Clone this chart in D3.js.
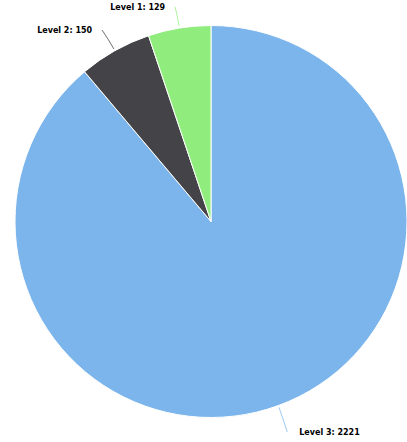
<!DOCTYPE html>
<html><head><meta charset="utf-8">
<script src="https://cdn.jsdelivr.net/npm/d3@7"></script>
<style>html,body{margin:0;padding:0;background:#fff;}svg{display:block;}</style>
</head><body>
<svg id="chart" width="407" height="442"></svg>
<script>
const categories = ["Level 3", "Level 2", "Level 1"];
const values = [2221, 150, 129];
const colors = ["#7cb5ec", "#434348", "#90ed7d"];

const W = 407, H = 442, cx = 211, cy = 221.5, R = 196, RL = 222;
const svg = d3.select("#chart");
const data = categories.map((c, i) => ({ name: c, value: values[i], color: colors[i] }));
const pie = d3.pie().value(d => d.value).sort(null).startAngle(0).endAngle(2 * Math.PI);
const arcs = pie(data);
const arc = d3.arc().innerRadius(0).outerRadius(R);
const g = svg.append("g").attr("transform", `translate(${cx},${cy})`);
g.selectAll("path.slice").data(arcs).join("path")
  .attr("class", "slice")
  .attr("d", arc)
  .attr("fill", d => d.data.color)
  .attr("stroke", "#fff").attr("stroke-width", 1).attr("stroke-linejoin", "round");

arcs.forEach(a => {
  const m = (a.startAngle + a.endAngle) / 2;
  const sx = Math.sin(m), sy = -Math.cos(m);
  const x0 = (R + 2) * sx, y0 = (R + 2) * sy;
  let lx = RL * sx, ly = RL * sy;
  ly = Math.max(ly, 5 - cy);
  const mx = (R + 12) * sx, my = (R + 12) * sy;
  g.append("path")
    .attr("d", `M${x0},${y0}Q${mx},${my} ${lx},${ly + 2}`)
    .attr("fill", "none").attr("stroke", a.data.color).attr("stroke-width", 1).attr("opacity", 0.75);
  const right = sx >= 0;
  g.append("text")
    .attr("x", lx + (right ? 12 : -10))
    .attr("y", ly + 5)
    .attr("text-anchor", right ? "start" : "end")
    .attr("font-family", "DejaVu Sans, sans-serif")
    .attr("font-size", 8).attr("font-weight", "bold").attr("fill", "#000")
    .text(`${a.data.name}: ${a.data.value}`);
});
</script>
</body></html>
